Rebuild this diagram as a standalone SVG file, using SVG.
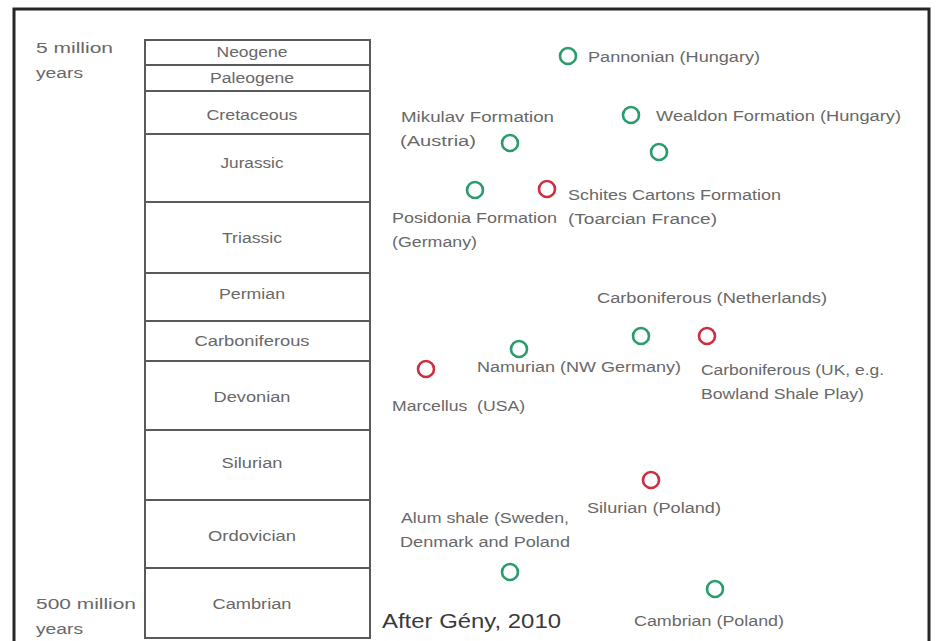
<svg xmlns="http://www.w3.org/2000/svg" width="936" height="641" viewBox="0 0 936 641">
<style>
.bg{fill:#ffffff}
.frame{fill:none;stroke:#262626;stroke-width:3}
.era{fill:#ffffff;stroke:#5a5a5a;stroke-width:2}
.t{font-family:"Liberation Sans",Arial,sans-serif;font-size:15.5px;fill:#686868}
.tc{text-anchor:middle}
.big{font-family:"Liberation Sans",Arial,sans-serif;font-size:21px;fill:#3a3a3a}
.g{fill:none;stroke:#2a9c6a;stroke-width:2.6}
.r{fill:none;stroke:#cc2f3f;stroke-width:2.6}
</style>
<rect class="bg" x="0" y="0" width="936" height="641"/>
<rect class="frame" x="14" y="9" width="915" height="640"/>

<g id="scale-labels">
<text class="t" x="36" y="53" textLength="77" lengthAdjust="spacingAndGlyphs">5 million</text>
<text class="t" x="36" y="78" textLength="47" lengthAdjust="spacingAndGlyphs">years</text>
<text class="t" x="36" y="609" textLength="100" lengthAdjust="spacingAndGlyphs">500 million</text>
<text class="t" x="36" y="634" textLength="47" lengthAdjust="spacingAndGlyphs">years</text>
</g>

<g id="column">
<g id="neogene"><rect class="era" x="145" y="40" width="225" height="25"/><text class="t tc" x="252" y="57" textLength="71" lengthAdjust="spacingAndGlyphs">Neogene</text></g>
<g id="paleogene"><rect class="era" x="145" y="65" width="225" height="26"/><text class="t tc" x="252" y="83" textLength="84" lengthAdjust="spacingAndGlyphs">Paleogene</text></g>
<g id="cretaceous"><rect class="era" x="145" y="91" width="225" height="43"/><text class="t tc" x="252" y="120" textLength="91" lengthAdjust="spacingAndGlyphs">Cretaceous</text></g>
<g id="jurassic"><rect class="era" x="145" y="134" width="225" height="68"/><text class="t tc" x="252" y="168" textLength="63" lengthAdjust="spacingAndGlyphs">Jurassic</text></g>
<g id="triassic"><rect class="era" x="145" y="202" width="225" height="71"/><text class="t tc" x="252" y="243" textLength="60" lengthAdjust="spacingAndGlyphs">Triassic</text></g>
<g id="permian"><rect class="era" x="145" y="273" width="225" height="48"/><text class="t tc" x="252" y="299" textLength="66" lengthAdjust="spacingAndGlyphs">Permian</text></g>
<g id="carboniferous"><rect class="era" x="145" y="321" width="225" height="40"/><text class="t tc" x="252" y="346" textLength="115" lengthAdjust="spacingAndGlyphs">Carboniferous</text></g>
<g id="devonian"><rect class="era" x="145" y="361" width="225" height="69"/><text class="t tc" x="252" y="402" textLength="77" lengthAdjust="spacingAndGlyphs">Devonian</text></g>
<g id="silurian"><rect class="era" x="145" y="430" width="225" height="70"/><text class="t tc" x="252" y="468" textLength="61" lengthAdjust="spacingAndGlyphs">Silurian</text></g>
<g id="ordovician"><rect class="era" x="145" y="500" width="225" height="68"/><text class="t tc" x="252" y="541" textLength="88" lengthAdjust="spacingAndGlyphs">Ordovician</text></g>
<g id="cambrian"><rect class="era" x="145" y="568" width="225" height="70"/><text class="t tc" x="252" y="609" textLength="79" lengthAdjust="spacingAndGlyphs">Cambrian</text></g>
</g>

<g id="connectors"></g>

<g id="pannonian"><circle class="g" cx="568" cy="56" r="8"/><text class="t" x="588" y="62" textLength="172" lengthAdjust="spacingAndGlyphs">Pannonian (Hungary)</text></g>
<g id="mikulav"><text class="t" x="401" y="122" textLength="153" lengthAdjust="spacingAndGlyphs">Mikulav Formation</text><text class="t" x="400" y="146" textLength="76" lengthAdjust="spacingAndGlyphs">(Austria)</text><circle class="g" cx="510" cy="143" r="8"/></g>
<g id="wealdon"><circle class="g" cx="631" cy="115" r="8"/><text class="t" x="656" y="121" textLength="245" lengthAdjust="spacingAndGlyphs">Wealdon Formation (Hungary)</text></g>
<g id="green-jurassic"><circle class="g" cx="659" cy="152" r="8"/></g>
<g id="posidonia"><circle class="g" cx="475" cy="190" r="8"/><text class="t" x="392" y="223" textLength="165" lengthAdjust="spacingAndGlyphs">Posidonia Formation</text><text class="t" x="392" y="247" textLength="85" lengthAdjust="spacingAndGlyphs">(Germany)</text></g>
<g id="schistes"><circle class="r" cx="547" cy="189" r="8"/><text class="t" x="568" y="200" textLength="213" lengthAdjust="spacingAndGlyphs">Schites Cartons Formation</text><text class="t" x="568" y="224" textLength="149" lengthAdjust="spacingAndGlyphs">(Toarcian France)</text></g>
<g id="carb-nl"><text class="t" x="597" y="303" textLength="230" lengthAdjust="spacingAndGlyphs">Carboniferous (Netherlands)</text><circle class="g" cx="641" cy="336" r="8"/></g>
<g id="carb-uk"><circle class="r" cx="707" cy="336" r="8"/><text class="t" x="701" y="375" textLength="183" lengthAdjust="spacingAndGlyphs">Carboniferous (UK, e.g.</text><text class="t" x="701" y="399" textLength="163" lengthAdjust="spacingAndGlyphs">Bowland Shale Play)</text></g>
<g id="namurian"><circle class="g" cx="519" cy="349" r="8"/><text class="t" x="477" y="372" textLength="204" lengthAdjust="spacingAndGlyphs">Namurian (NW Germany)</text></g>
<g id="marcellus"><circle class="r" cx="426" cy="369" r="8"/><text class="t" x="392" y="411" textLength="133" lengthAdjust="spacingAndGlyphs" style="white-space:pre">Marcellus  (USA)</text></g>
<g id="silurian-pl"><circle class="r" cx="651" cy="480" r="8"/><text class="t" x="587" y="513" textLength="134" lengthAdjust="spacingAndGlyphs">Silurian (Poland)</text></g>
<g id="alum"><text class="t" x="401" y="523" textLength="168" lengthAdjust="spacingAndGlyphs">Alum shale (Sweden,</text><text class="t" x="400" y="547" textLength="170" lengthAdjust="spacingAndGlyphs">Denmark and Poland</text><circle class="g" cx="510" cy="572" r="8"/></g>
<g id="cambrian-pl"><circle class="g" cx="715" cy="589" r="8"/><text class="t" x="634" y="626" textLength="150" lengthAdjust="spacingAndGlyphs">Cambrian (Poland)</text></g>
<text class="big" x="382" y="628" textLength="179" lengthAdjust="spacingAndGlyphs">After Gény, 2010</text>
</svg>
